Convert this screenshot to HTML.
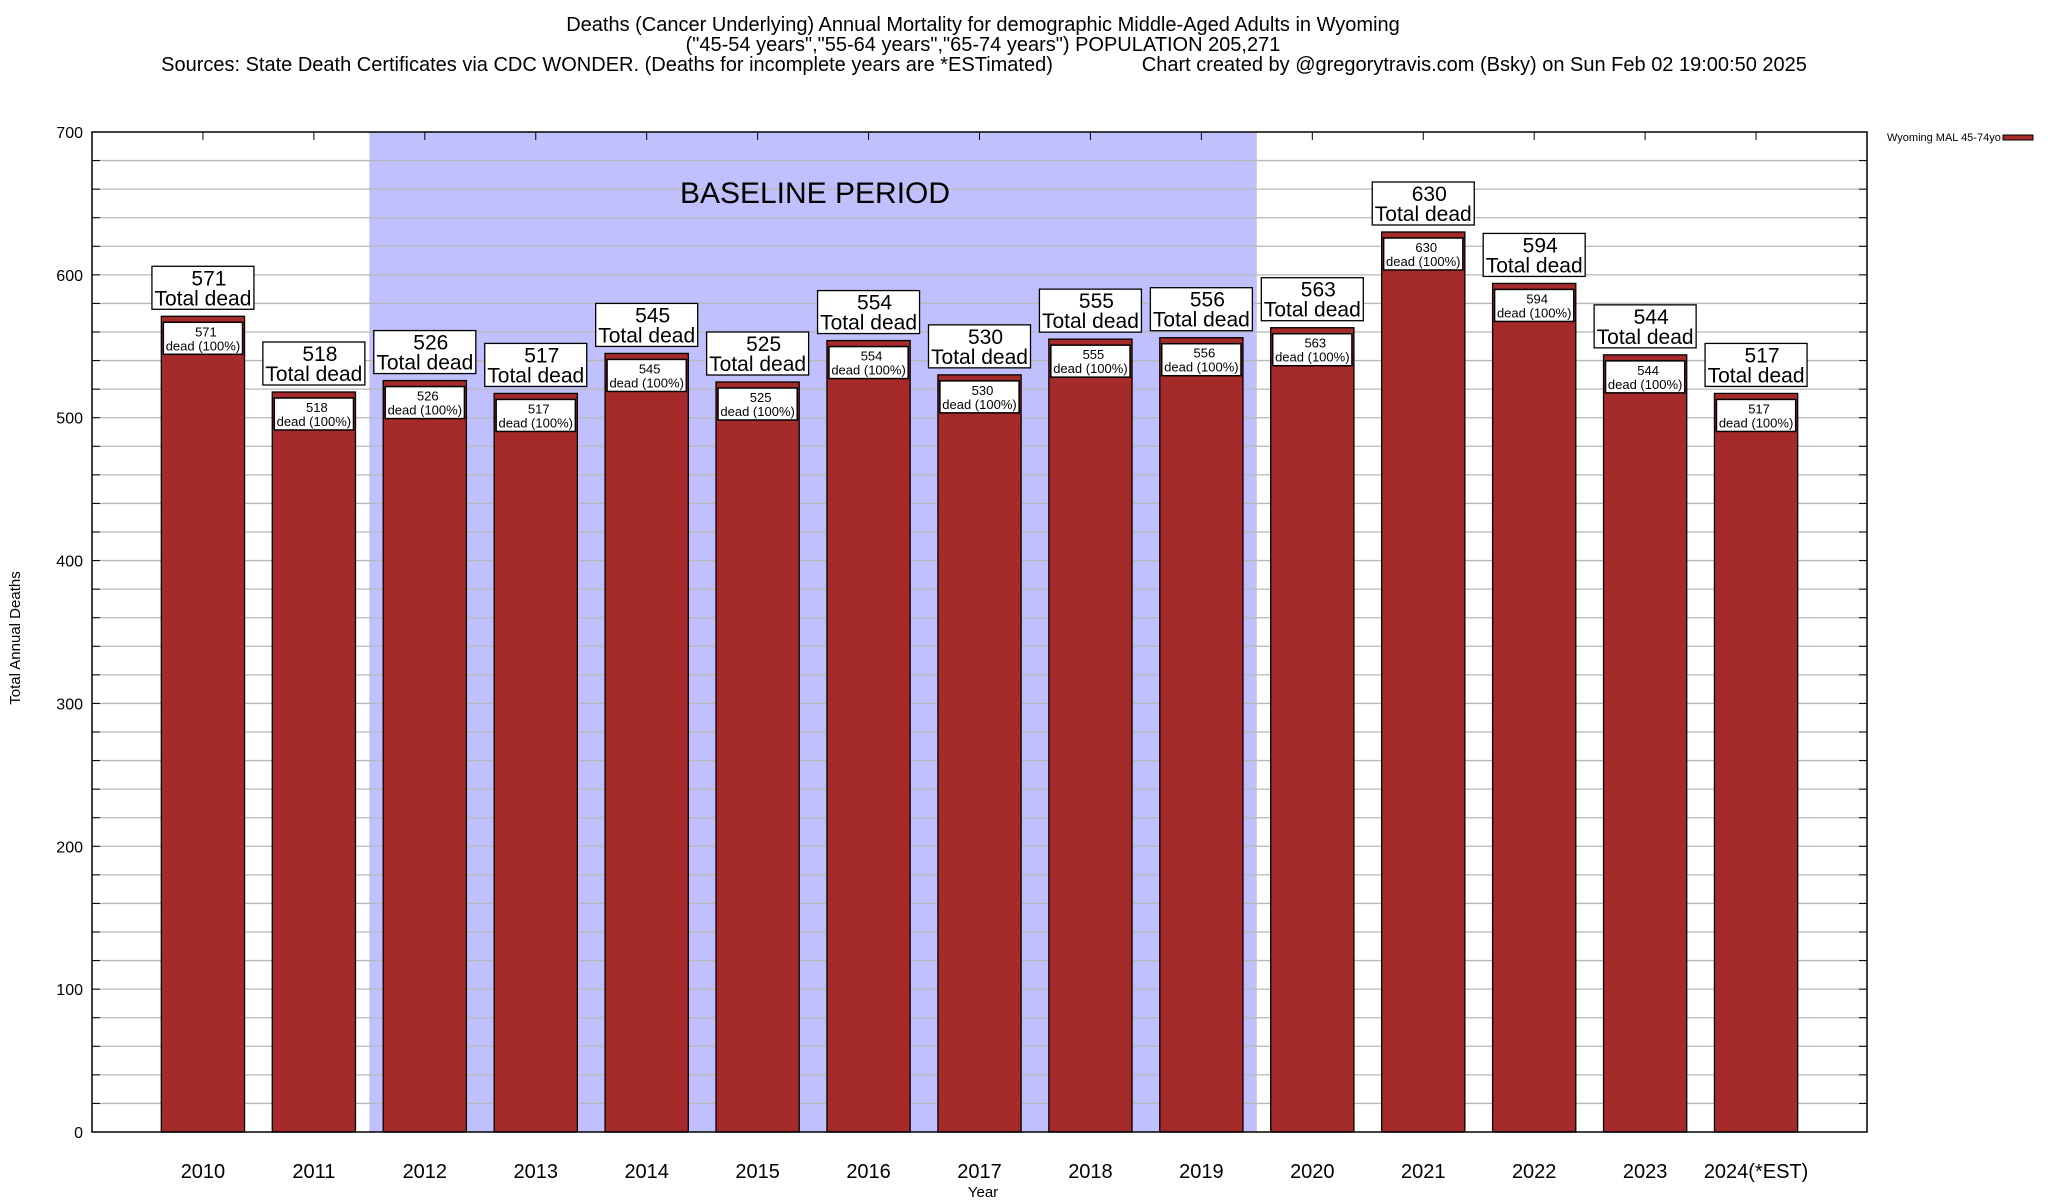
<!DOCTYPE html>
<html><head><meta charset="utf-8"><style>
body{margin:0;background:#fff;}
svg{display:block;font-family:"Liberation Sans",Arial,sans-serif;}
</style></head><body>
<svg id="chart" width="2048" height="1200" viewBox="0 0 2048 1200" xmlns="http://www.w3.org/2000/svg">
<g text-anchor="middle" font-size="20" fill="#000">
<text x="983" y="31">Deaths (Cancer Underlying) Annual Mortality for demographic Middle-Aged Adults in Wyoming</text>
<text x="983" y="51">("45-54 years","55-64 years","65-74 years") POPULATION 205,271</text>
<text x="984" y="71" xml:space="preserve">Sources: State Death Certificates via CDC WONDER. (Deaths for incomplete years are *ESTimated)                Chart created by @gregorytravis.com (Bsky) on Sun Feb 02 19:00:50 2025</text>
</g>
<g id="plot"></g>
<text x="20" y="638" transform="rotate(-90 20 638)" text-anchor="middle" font-size="15">Total Annual Deaths</text>
<text x="983" y="1197" text-anchor="middle" font-size="15">Year</text>
<g>
<text x="1887" y="141" font-size="11">Wyoming MAL 45-74yo</text>
<rect x="2003" y="135" width="30" height="5" fill="#a52a2a" stroke="#000" stroke-width="1"/>
</g>
</svg>
<script>
const categories=["2010","2011","2012","2013","2014","2015","2016","2017","2018","2019","2020","2021","2022","2023","2024(*EST)"];
const deaths=[571,518,526,517,545,525,554,530,555,556,563,630,594,544,517];
const yTicks=[0,100,200,300,400,500,600,700];
const baselineRange=[1.5,9.5];
const NS="http://www.w3.org/2000/svg";
const L=92,R=1867,T=132,B=1132,YMAX=700;
const xs=i=>L+(R-L)/16*(i+1);
const ys=v=>B-(v/YMAX)*(B-T);
const bw=(R-L)/16*0.75;
const g=document.getElementById('plot');
function mk(tag,attrs,parent){const e=document.createElementNS(NS,tag);for(const k in attrs)e.setAttribute(k,attrs[k]);(parent||g).appendChild(e);return e;}
let sh=mk('rect',{x:xs(baselineRange[0]),y:T,width:xs(baselineRange[1])-xs(baselineRange[0]),height:B-T,fill:'#c0c0ff'});


for(let v=20;v<YMAX;v+=20){
 let ln=mk('line',{x1:L,x2:R,y1:ys(v),y2:ys(v),stroke:'#b8b8b8','stroke-width':1.3});
 
 
 mk('line',{x1:L,x2:L+8,y1:ys(v),y2:ys(v),stroke:'#000'});
 mk('line',{x1:R-8,x2:R,y1:ys(v),y2:ys(v),stroke:'#000'});
}
let bt=mk('text',{x:815,y:203,'text-anchor':'middle','font-size':30});
bt.textContent='BASELINE PERIOD';


yTicks.forEach(v=>{
 let t=mk('text',{x:83,y:ys(v)+6,'text-anchor':'end','font-size':16});
 t.textContent=v;
 
 
});
categories.forEach((c,i)=>{
 const v=deaths[i],cx=xs(i),top=ys(v);
 mk('line',{x1:cx,x2:cx,y1:T,y2:T+8,stroke:'#000'});
 let bar=mk('rect',{x:cx-bw/2,y:top,width:bw,height:B-top,fill:'#a52a2a',stroke:'#000','stroke-width':1.3});
 
 
 let ib=mk('rect',{x:cx-bw/2+2,y:top+6,width:bw-4,height:32,fill:'#fff',stroke:'#000','stroke-width':1.5});
 
 
 let t1=mk('text',{x:cx+3,y:top+20,'text-anchor':'middle','font-size':13});
 t1.textContent=v;
 
 
 let t2=mk('text',{x:cx,y:top+34,'text-anchor':'middle','font-size':13});
 t2.textContent='dead (100%)';
 
 
 let ob=mk('rect',{x:cx-51,y:top-50,width:102,height:43,fill:'#fff',stroke:'#000','stroke-width':1.3});
 
 
 let t3=mk('text',{x:cx+6,y:top-31,'text-anchor':'middle','font-size':21});
 t3.textContent=v;
 
 
 let t4=mk('text',{x:cx,y:top-11,'text-anchor':'middle','font-size':21});
 t4.textContent='Total dead';
 
 
 let xl=mk('text',{x:cx,y:1178,'text-anchor':'middle','font-size':20});
 xl.textContent=c;
 
 
});
let fr=mk('rect',{x:L,y:T,width:R-L,height:B-T,fill:'none',stroke:'#000','stroke-width':1.5});


</script>
</body></html>
